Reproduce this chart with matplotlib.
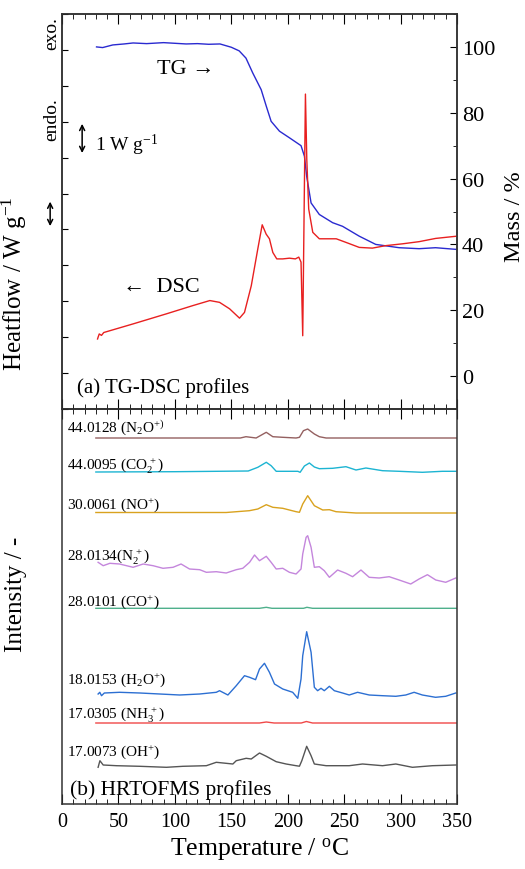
import numpy as np
import matplotlib
matplotlib.use('Agg')
import matplotlib.pyplot as plt
from matplotlib.ticker import MultipleLocator, NullFormatter

plt.rcParams['font.family'] = ['Liberation Serif', 'DejaVu Serif']
plt.rcParams['mathtext.fontset'] = 'custom'
plt.rcParams['mathtext.rm'] = 'Liberation Serif'
plt.rcParams['mathtext.it'] = 'Liberation Serif:italic'

# ---- (a) TG-DSC ----
tg_T = [30.6, 36, 45, 55, 63, 75, 90, 100, 110, 120, 130, 140, 150, 157, 163, 169, 176.5, 181, 185.3,
        192.7, 201.5, 211.8, 214.8, 216.8, 220.7, 228, 239.8, 248.6, 263.4, 278, 298.7, 316.4, 331, 349]
tg_mass = [100.0, 99.8, 100.6, 100.9, 101.2, 101.0, 101.3, 101.1, 100.9, 101.0, 100.8, 100.9, 99.9, 98.8,
           96.6, 92.1, 87.0, 82.0, 77.4, 74.4, 72.4, 70.0, 66.8, 60.7, 52.6, 49.1, 46.6, 45.5, 42.5,
           40.0, 39.0, 38.7, 39.0, 38.5]

dsc_T = [31.5, 32, 33, 35, 37, 63, 92.5, 116, 131, 139.6, 148.5, 157.3, 161.7, 167.7, 173.5, 177.4,
         180.9, 183.8, 186.8, 190.3, 195.6, 201.5, 206.8, 209.8, 211.8, 213.3, 215.7, 216.9, 218.6,
         222.2, 228, 234, 243, 251.6, 263.4, 275, 287, 301.7, 316.4, 331, 349]
dsc_hf = [1.95, 2.00, 2.09, 2.05, 2.13, 2.37, 2.65, 2.88, 3.02, 2.97, 2.79, 2.53, 2.69, 3.43, 4.46, 5.13,
          4.87, 4.74, 4.36, 4.18, 4.18, 4.20, 4.18, 4.23, 4.09, 2.04, 8.77, 6.96, 5.57,
          4.92, 4.74, 4.74, 4.74, 4.64, 4.50, 4.48, 4.55, 4.60, 4.66, 4.75, 4.81]

# ---- (b) HRTOFMS ----
ms_labels = ['44.0128 (N$_2$O$^{+)}$', '44.0095 (CO$_2^{\\,+}$)', '30.0061 (NO$^{+}$)',
             '28.0134(N$_2^{\\,+}$)', '28.0101 (CO$^{+}$)', '18.0153 (H$_2$O$^{+}$)',
             '17.0305 (NH$_3^{\\,+}$)', '17.0073 (OH$^{+}$)']
ms_colors = ['#946060', '#1cb4d2', '#d9a21e', '#c486dc', '#4fb08c', '#2c6fd2', '#f04848', '#555555']
ms_offsets = [366, 332, 291.5, 237, 195.7, 110, 81, 38.3]
ms_label_y = [377, 339, 300, 248, 203, 125, 90, 53]

n2o_T = [30, 158, 163, 172, 181, 186.8, 195.6, 207.4, 210.4, 213.9, 217.7, 223.6, 228, 234, 350]
n2o_I = [0, 0, 1.3, 0, 5.7, 1.3, 0.7, 0, 0.7, 7.3, 9, 4, 1.3, 0, 0]

co2_T = [30, 100, 165, 173.5, 181, 185.3, 189.8, 195.6, 209, 211, 214.8, 219.2, 223.6, 228, 239.8,
         251.6, 260.5, 269.3, 284, 298.7, 319.3, 337, 349]
co2_I = [0, 0.3, 1, 4.7, 9.7, 6.3, 0.7, 0.7, 0.7, -0.3, 6, 9, 5, 3.3, 3.7,
         5.3, 2, 4, 1.3, 0.7, -0.3, 0.7, 0.7]

no_T = [30, 145.5, 166, 173.5, 181, 186.8, 195.6, 207.4, 210.4, 213.3, 217.7, 223.6, 231, 236.9,
        242.8, 260.5, 350]
no_I = [0, 0, 1.8, 3.5, 7.8, 5.2, 4.2, 0.8, 0.2, 8.5, 16.8, 6.8, 2.5, 2.8, 0.8, -0.5, -0.5]

n2_T = [32, 36.5, 42.4, 51, 63, 71.9, 80.7, 89.5, 98.4, 105.5, 113, 122, 127.9, 136.7, 145.5, 154.4,
        160.2, 166.2, 170.6, 175, 181, 185.3, 189.8, 195.6, 201.5, 207.4, 211.8, 213.3, 216.3, 217.7,
        220.7, 223.6, 228, 232.4, 236.9, 244.2, 251.6, 257.5, 264.9, 272.2, 281, 289.9, 298.7, 309,
        316.4, 323.8, 331.2, 340, 348.9]
n2_I = [4.7, 1.3, 3.7, 3, -0.3, 3, 1.3, -1.3, -0.3, 3, -2, -2.7, -5.3, -4.7, -6, -2.7,
        -1.3, 4.7, 12, 6.3, 10.7, 4.7, -2, -1.3, -5.3, -7, -2, 13, 29.7, 31.3,
        19.7, -0.3, 0.3, -3.7, -10.3, -3, -6.3, -9.7, -3, -10.3, -11, -9.7, -13, -17,
        -12, -7.7, -13, -15.3, -11]

co_T = [30, 175, 181, 186, 214, 217, 222, 350]
co_I = [0, 0, 1, 0, 0, 1, 0, 0]

h2o_T = [32, 33.5, 35, 37.5, 51, 69, 86.6, 104.3, 122, 136.7, 139.6, 147, 154.4, 161.7, 166.2, 171.5,
         175, 179.4, 183.8, 188.3, 195.6, 204.4, 208.9, 211.8, 213.3, 216.8, 220.7, 223.6, 226.5,
         229.5, 232.4, 236.9, 241.3, 248.6, 254.5, 261.9, 272.2, 284, 295.8, 304.6, 312, 319.3, 331,
         340, 348.9]
h2o_I = [0, 1.7, -1.7, 1, 1.7, 1, 0, -1, 0, 1.7, 3.3, -1, 8.3, 18.3, 16.7, 14.3,
         25, 30.7, 21.7, 10, 5, 1.7, -4.3, 15, 38.3, 62.3, 41.7, 6.7, 3.3,
         5.7, 3.3, 7.7, 3.3, 1, -1, 1.7, -1, -1.7, -2.3, -1, 1.7, -1, -3.3,
         -2.3, 1]

nh3_T = [30, 175, 181, 188, 212, 216.5, 222, 350]
nh3_I = [0, 0, 1, 0, 0, 1.5, 0, 0]

oh_T = [32, 33.6, 36.5, 48.3, 69, 92.5, 107.2, 127.9, 136.7, 151.4, 154.4, 163.2, 167.7, 175, 181,
        189.8, 198.6, 207.4, 210.4, 212.5, 216.8, 220.7, 223.6, 234, 254.5, 266.3, 284, 295.8, 310.5,
        328.2, 348.9]
oh_I = [-1.6, 5, 0.7, 0, -0.6, -1.6, -0.6, 0, 3.4, 1.7, 5, 7.4, 6.7, 12.7, 9.4,
        4, 1.7, 0, -0.5, 5, 19.4, 10, 1.7, 0, 0, 1.7, 0, 1.7, -1.6,
        0, 0.7]

ms_T = [n2o_T, co2_T, no_T, n2_T, co_T, h2o_T, nh3_T, oh_T]
ms_I = [n2o_I, co2_I, no_I, n2_I, co_I, h2o_I, nh3_I, oh_I]

fig = plt.figure(figsize=(5.25, 8.7), dpi=100)
ax1 = fig.add_axes([62 / 525, 1 - 410 / 870, 395 / 525, 395 / 870])
ax3 = fig.add_axes([62 / 525, 1 - 805 / 870, 395 / 525, 395 / 870], sharex=ax1)
ax2 = ax1.twinx()

ax2.plot(tg_T, tg_mass, color='#2a2ad0', lw=1.0)
ax1.plot(dsc_T, dsc_hf, color='#e82020', lw=1.0)
ax1.set_zorder(ax2.get_zorder() + 1)
ax1.patch.set_visible(False)

ax1.set_xlim(0, 350)
ax1.set_ylim(0, 11)
ax1.yaxis.set_major_locator(MultipleLocator(1))
ax1.yaxis.set_major_formatter(NullFormatter())
ax2.set_ylim(-10, 110)
ax2.set_yticks([0, 20, 40, 60, 80, 100])
ax2.yaxis.set_minor_locator(MultipleLocator(10))

for ax in (ax1, ax3):
    ax.xaxis.set_major_locator(MultipleLocator(50))
    ax.xaxis.set_minor_locator(MultipleLocator(10))
    ax.tick_params(axis='x', which='both', direction='in', top=True, bottom=True)
    ax.tick_params(axis='x', which='major', length=7)
    ax.tick_params(axis='x', which='minor', length=3.5)
ax1.tick_params(axis='x', labelbottom=False)
ax1.tick_params(axis='y', direction='in', length=4, left=True, right=False)
ax2.tick_params(axis='y', which='major', direction='in', length=5, labelsize=16)
ax2.tick_params(axis='y', which='minor', direction='in', length=3)
ax3.tick_params(axis='x', labelsize=14.5, pad=6)

for ax in (ax1, ax2, ax3):
    for s in ax.spines.values():
        s.set_linewidth(1.1)
        s.set_color('#333333')

ax1.set_ylabel('Heatflow / W g$^{-1}$', fontsize=18)
ax1.yaxis.set_label_coords(-0.0835, 0.32)
ax2.set_ylabel('Mass / %', fontsize=17.5)
ax2.yaxis.set_label_coords(1.118, 0.49)

tr = ax1.transAxes
ax1.text(-0.025, 0.954, 'exo.', rotation=90, ha='center', va='center', fontsize=14, transform=tr)
ax1.text(-0.025, 0.734, 'endo.', rotation=90, ha='center', va='center', fontsize=14, transform=tr)
ax1.annotate('', xy=(-0.03, 0.456), xytext=(-0.03, 0.532), xycoords=tr, textcoords=tr,
             arrowprops=dict(arrowstyle='<->', lw=1.1, color='black', mutation_scale=9),
             annotation_clip=False)
ax1.annotate('', xy=(0.051, 0.641), xytext=(0.051, 0.729), xycoords=tr, textcoords=tr,
             arrowprops=dict(arrowstyle='<->', lw=1.1, color='black', mutation_scale=9))
ax1.text(0.084, 0.671, '1 W g$^{-1}$', ha='left', va='center', fontsize=14, transform=tr)
ax1.text(0.24, 0.863, 'TG \u2192', ha='left', va='center', fontsize=16, transform=tr)
ax1.text(0.154, 0.309, '\u2190  DSC', ha='left', va='center', fontsize=16, transform=tr)
ax1.text(0.038, 0.056, '(a) TG-DSC profiles', ha='left', va='center', fontsize=15, transform=tr)

# bottom panel
for T, I, off, c in zip(ms_T, ms_I, ms_offsets, ms_colors):
    ax3.plot(T, np.array(I) + off, color=c, lw=1.0)
for lab, ly in zip(ms_labels, ms_label_y):
    ax3.text(4.4, ly, lab, ha='left', va='center', fontsize=11)
ax3.set_ylim(0, 395)
ax3.set_yticks([])
ax3.text(0.02, 0.038, '(b) HRTOFMS profiles', ha='left', va='center', fontsize=15.5,
         transform=ax3.transAxes)
ax3.set_ylabel('Intensity / -', fontsize=18)
ax3.yaxis.set_label_coords(-0.0886, 0.532)
ax3.set_xlabel('Temperature / $^{\\rm o}$C', fontsize=18.5, labelpad=3)

fig.savefig('out.png', dpi=100)
